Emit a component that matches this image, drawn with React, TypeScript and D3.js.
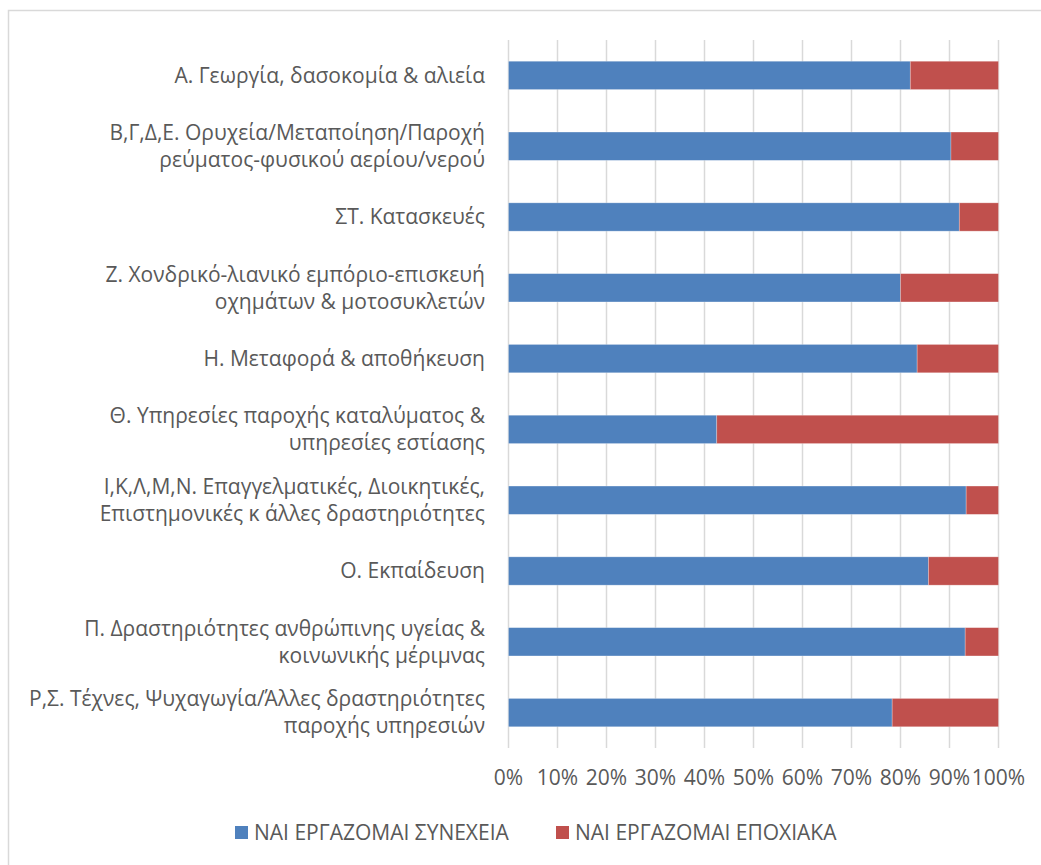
import React from "react";
import * as d3 from "d3";

const categories: string[][] = [
  ["Α. Γεωργία, δασοκομία & αλιεία"],
  ["Β,Γ,Δ,Ε. Ορυχεία/Μεταποίηση/Παροχή", "ρεύματος-φυσικού αερίου/νερού"],
  ["ΣΤ. Κατασκευές"],
  ["Ζ. Χονδρικό-λιανικό εμπόριο-επισκευή", "οχημάτων & μοτοσυκλετών"],
  ["Η. Μεταφορά & αποθήκευση"],
  ["Θ. Υπηρεσίες παροχής καταλύματος &", "υπηρεσίες εστίασης"],
  ["Ι,Κ,Λ,Μ,Ν. Επαγγελματικές, Διοικητικές,", "Επιστημονικές κ άλλες δραστηριότητες"],
  ["Ο. Εκπαίδευση"],
  ["Π. Δραστηριότητες ανθρώπινης υγείας &", "κοινωνικής μέριμνας"],
  ["Ρ,Σ. Τέχνες, Ψυχαγωγία/Άλλες δραστηριότητες", "παροχής υπηρεσιών"],
];

const continuous: number[] = [82.0, 90.3, 92.0, 80.0, 83.4, 42.5, 93.4, 85.7, 93.2, 78.3];
const seasonal: number[] = continuous.map((v) => 100 - v);

const seriesNames: string[] = ["ΝΑΙ ΕΡΓΑΖΟΜΑΙ ΣΥΝΕΧΕΙΑ", "ΝΑΙ ΕΡΓΑΖΟΜΑΙ ΕΠΟΧΙΑΚΑ"];
const colors: string[] = ["#4f81bd", "#c0504d"];
const ticks: number[] = [0, 10, 20, 30, 40, 50, 60, 70, 80, 90, 100];

const W = 1041;
const H = 865;
const FONT = "'Open Sans', 'Noto Sans', sans-serif";
const TEXT = "#595959";
const FS = 21;

export default function App() {
  const x = d3.scaleLinear().domain([0, 100]).range([508.5, 998.5]);
  const y = d3
    .scaleBand<number>()
    .domain(d3.range(categories.length))
    .range([40, 748])
    .paddingInner(0.6)
    .paddingOuter(0.3);

  const stackData = continuous.map((c, i) => ({ i, c, s: seasonal[i] }));
  const stack = d3.stack<any>().keys(["c", "s"])(stackData);

  return (
    <svg
      width={W}
      height={H}
      style={{ position: "absolute", left: 0, top: 0, display: "block", background: "#fff" }}
      fontFamily={FONT}
    >
      <rect x={8.5} y={10.5} width={1040} height={870} fill="#fff" stroke="#d9d9d9" strokeWidth={1.5} />
      {ticks.map((t) => (
        <line key={t} x1={x(t)} x2={x(t)} y1={40} y2={748} stroke="#d9d9d9" strokeWidth={1.5} />
      ))}
      {stack.map((layer, k) => (
        <g key={k} fill={colors[k]}>
          {layer.map((d, i) => (
            <rect
              key={i}
              x={x(d[0])}
              width={x(d[1]) - x(d[0])}
              y={y(i)!}
              height={y.bandwidth()}
              stroke="#ffffff"
              strokeOpacity={0.35}
              strokeWidth={0.75}
            />
          ))}
        </g>
      ))}
      {categories.map((lines, i) => {
        const cy = y(i)! + y.bandwidth() / 2;
        const lh = 27;
        const start = cy - ((lines.length - 1) * lh) / 2;
        return (
          <text key={i} textAnchor="end" fill={TEXT} fontSize={FS}>
            {lines.map((l, j) => (
              <tspan key={j} x={485} y={start + j * lh} dy="0.35em">
                {l}
              </tspan>
            ))}
          </text>
        );
      })}
      {ticks.map((t) => (
        <text key={t} x={x(t)} y={778} dy="0.35em" textAnchor="middle" fill={TEXT} fontSize={FS}>
          {t}%
        </text>
      ))}
      {seriesNames.map((n, k) => {
        const sx = [235, 556][k];
        return (
          <g key={k}>
            <rect x={sx} y={826} width={13} height={13} fill={colors[k]} />
            <text x={sx + 19} y={832.5} dy="0.35em" fill={TEXT} fontSize={FS}>
              {n}
            </text>
          </g>
        );
      })}
    </svg>
  );
}
